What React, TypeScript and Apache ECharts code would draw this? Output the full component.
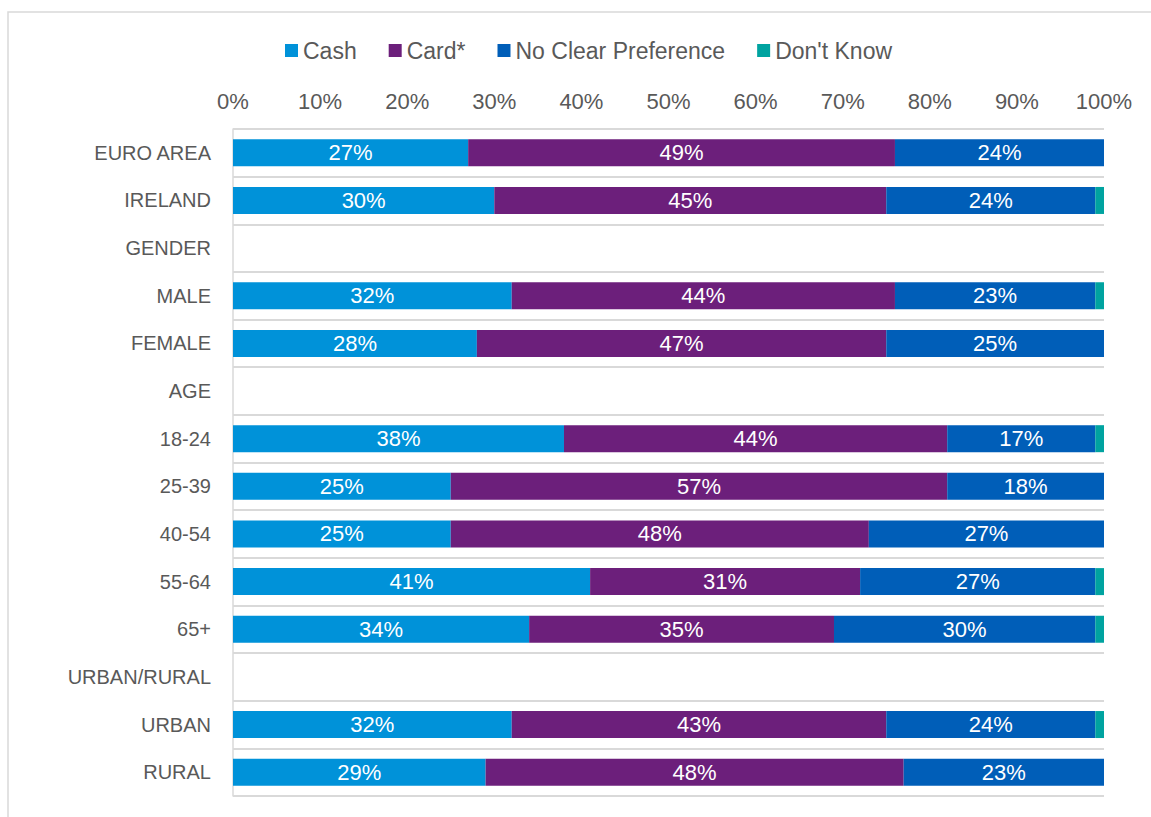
import React, { useEffect, useRef } from "react";
import * as echarts from "echarts";

const categories = [
  "EURO AREA", "IRELAND", "GENDER", "MALE", "FEMALE", "AGE", "18-24", "25-39",
  "40-54", "55-64", "65+", "URBAN/RURAL", "URBAN", "RURAL",
];
const cash = [27, 30, null, 32, 28, null, 38, 25, 25, 41, 34, null, 32, 29];
const card = [49, 45, null, 44, 47, null, 44, 57, 48, 31, 35, null, 43, 48];
const noPref = [24, 24, null, 23, 25, null, 17, 18, 27, 27, 30, null, 24, 23];
const dontKnow = [0, 1, null, 1, 0, null, 1, 0, 0, 1, 1, null, 1, 0];
const xTicks = [0, 10, 20, 30, 40, 50, 60, 70, 80, 90, 100];

const FONT = "'Liberation Sans', Arial, sans-serif";

export default function App() {
  const ref = useRef<HTMLDivElement>(null);
  useEffect(() => {
    if (!ref.current) return;
    const chart = echarts.init(ref.current, null, { renderer: "svg" });
    const label = {
      show: true,
      color: "#ffffff",
      fontSize: 22,
      fontFamily: FONT,
      formatter: (p: any) => (p.value ? p.value + "%" : ""),
    };
    const mk = (name: string, data: any[], color: string, showLabel: boolean) => ({
      name,
      type: "bar",
      stack: "total",
      data,
      barWidth: 27,
      itemStyle: { color },
      label: showLabel ? label : { show: false },
    });
    chart.setOption({
      animation: false,
      textStyle: { fontFamily: FONT },
      graphic: [
        {
          type: "rect",
          shape: { x: 8, y: 12, width: 1170, height: 830 },
          style: { fill: "none", stroke: "#d9d9d9", lineWidth: 1.5 },
          silent: true,
        },
      ],
      legend: {
        top: 34,
        left: 280,
        itemWidth: 13,
        itemHeight: 13,
        itemGap: 32,
        icon: "rect",
        textStyle: { fontSize: 23, color: "#595959", fontFamily: FONT },
        data: ["Cash", "Card*", "No Clear Preference", "Don't Know"],
      },
      grid: { left: 233, right: 47, top: 129, bottom: 21, containLabel: false },
      xAxis: {
        type: "value",
        position: "top",
        min: xTicks[0],
        max: xTicks[xTicks.length - 1],
        interval: 10,
        axisLabel: {
          formatter: "{value}%",
          fontSize: 22,
          color: "#595959",
          fontFamily: FONT,
          margin: 17,
        },
        axisLine: { show: false },
        axisTick: { show: false },
        splitLine: { show: false },
      },
      yAxis: {
        type: "category",
        inverse: true,
        data: categories,
        axisLabel: {
          fontSize: 20,
          color: "#595959",
          fontFamily: FONT,
          margin: 22,
        },
        axisLine: { show: true, lineStyle: { color: "#d9d9d9", width: 1.5 } },
        axisTick: { show: false },
        splitLine: { show: true, lineStyle: { color: "#d9d9d9", width: 2 } },
      },
      series: [
        mk("Cash", cash, "#0092D9", true),
        mk("Card*", card, "#6C1F7B", true),
        mk("No Clear Preference", noPref, "#005EB8", true),
        mk("Don't Know", dontKnow, "#00A3A0", false),
      ],
    });
    return () => chart.dispose();
  }, []);
  return (
    <div
      ref={ref}
      style={{ position: "absolute", left: 0, top: 0, width: 1151, height: 817, background: "#fff" }}
    />
  );
}
